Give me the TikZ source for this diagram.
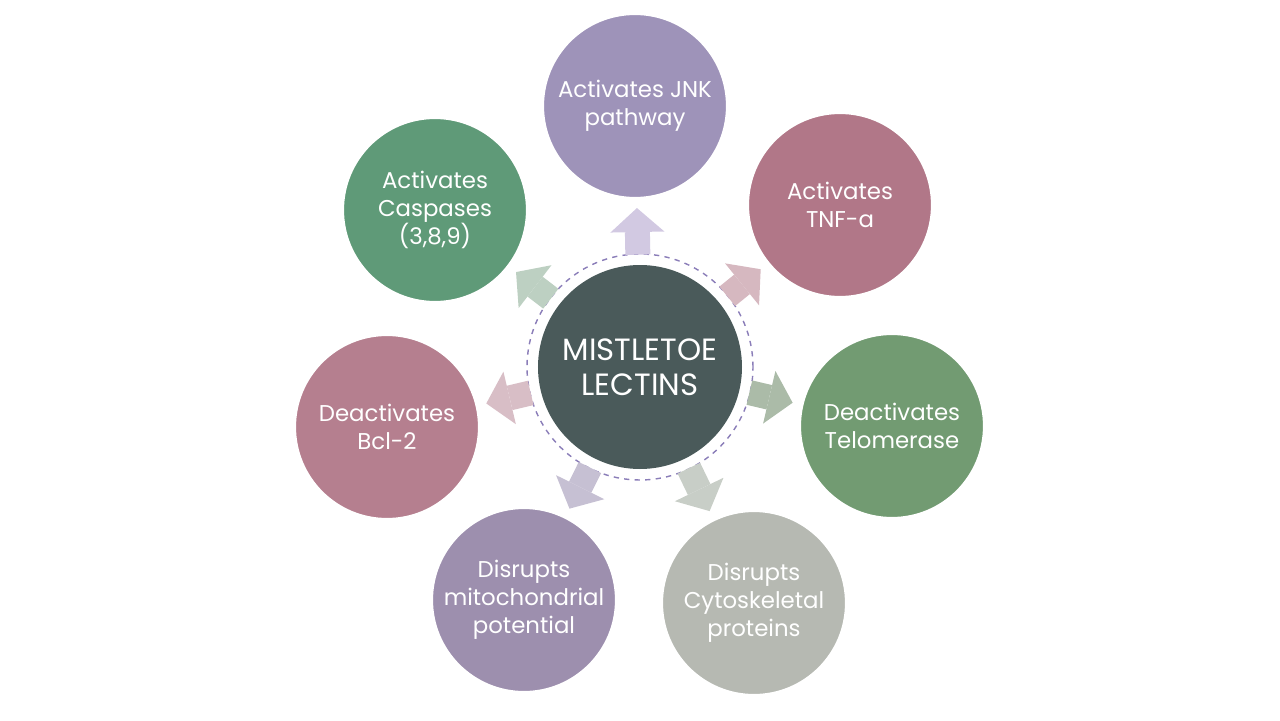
\documentclass[tikz,border=0pt]{standalone}
\usepackage{fontspec}
\setmainfont{Poppins}
\usetikzlibrary{arrows.meta}

% Colores
\definecolor{coreFill}{HTML}{4A5A5A}
\definecolor{ringLine}{HTML}{8A7DB8}
\definecolor{jnkFill}{HTML}{9E93B9}
\definecolor{tnfFill}{HTML}{B17788}
\definecolor{teloFill}{HTML}{729B72}
\definecolor{cytoFill}{HTML}{B6B9B2}
\definecolor{mitoFill}{HTML}{9D8FAE}
\definecolor{bclFill}{HTML}{B57F8F}
\definecolor{caspFill}{HTML}{5F9A78}
\definecolor{jnkArrow}{HTML}{D2C9E2}
\definecolor{tnfArrow}{HTML}{D6B8C0}
\definecolor{teloArrow}{HTML}{ABBBA8}
\definecolor{cytoArrow}{HTML}{C8CEC7}
\definecolor{mitoArrow}{HTML}{C6C0D3}
\definecolor{bclArrow}{HTML}{D8BEC6}
\definecolor{caspArrow}{HTML}{BDD0C2}

\begin{document}
\begin{tikzpicture}[
    bubble/.style={circle, minimum size=3.68cm, inner sep=0pt, draw=white,
      line width=1.2pt, text=white, align=center,
      font=\fontsize{13}{16}\selectfont},
    core/.style={circle, minimum size=4.08cm, inner sep=0pt, fill=coreFill,
      text=white, align=center, font=\fontsize{17.5}{20}\selectfont},
    pointer/.style={line width=0.5cm, shorten <=0.2cm, shorten >=0.18cm,
      -{Triangle[width=1.08cm, length=0.48cm 0 0, line width=0pt 0 0]}}
  ]

    \useasboundingbox (-12.8, -7.06) rectangle (12.8, 7.34);

    % Centro
    \node[core] (core) at (0, 0) {MISTLETOE\\LECTINS};
    \draw[ringLine, line width=0.8pt, dash pattern=on 3pt off 3pt] (core.center) circle (2.26cm);

    % Efectos
    \node[bubble, fill=jnkFill] (jnk) at (-0.10, 5.22) {Activates JNK\\pathway};
    \node[bubble, fill=tnfFill] (tnf) at (4.00, 3.24) {Activates\\TNF-a};
    \node[bubble, fill=teloFill] (telo) at (5.04, -1.18) {Deactivates\\Telomerase};
    \node[bubble, fill=cytoFill] (cyto) at (2.28, -4.72) {Disrupts\\Cytoskeletal\\proteins};
    \node[bubble, fill=mitoFill] (mito) at (-2.32, -4.66) {Disrupts\\mitochondrial\\potential};
    \node[bubble, fill=bclFill] (bcl) at (-5.06, -1.20) {Deactivates\\Bcl-2};
    \node[bubble, fill=caspFill] (casp) at (-4.10, 3.14) {Activates\\Caspases\\(3,8,9)};

    % Flechas
    \draw[pointer, jnkArrow] (core) -- (jnk);
    \draw[pointer, tnfArrow] (core) -- (tnf);
    \draw[pointer, teloArrow] (core) -- (telo);
    \draw[pointer, cytoArrow] (core) -- (cyto);
    \draw[pointer, mitoArrow] (core) -- (mito);
    \draw[pointer, bclArrow] (core) -- (bcl);
    \draw[pointer, caspArrow] (core) -- (casp);

  \end{tikzpicture}
\end{document}
